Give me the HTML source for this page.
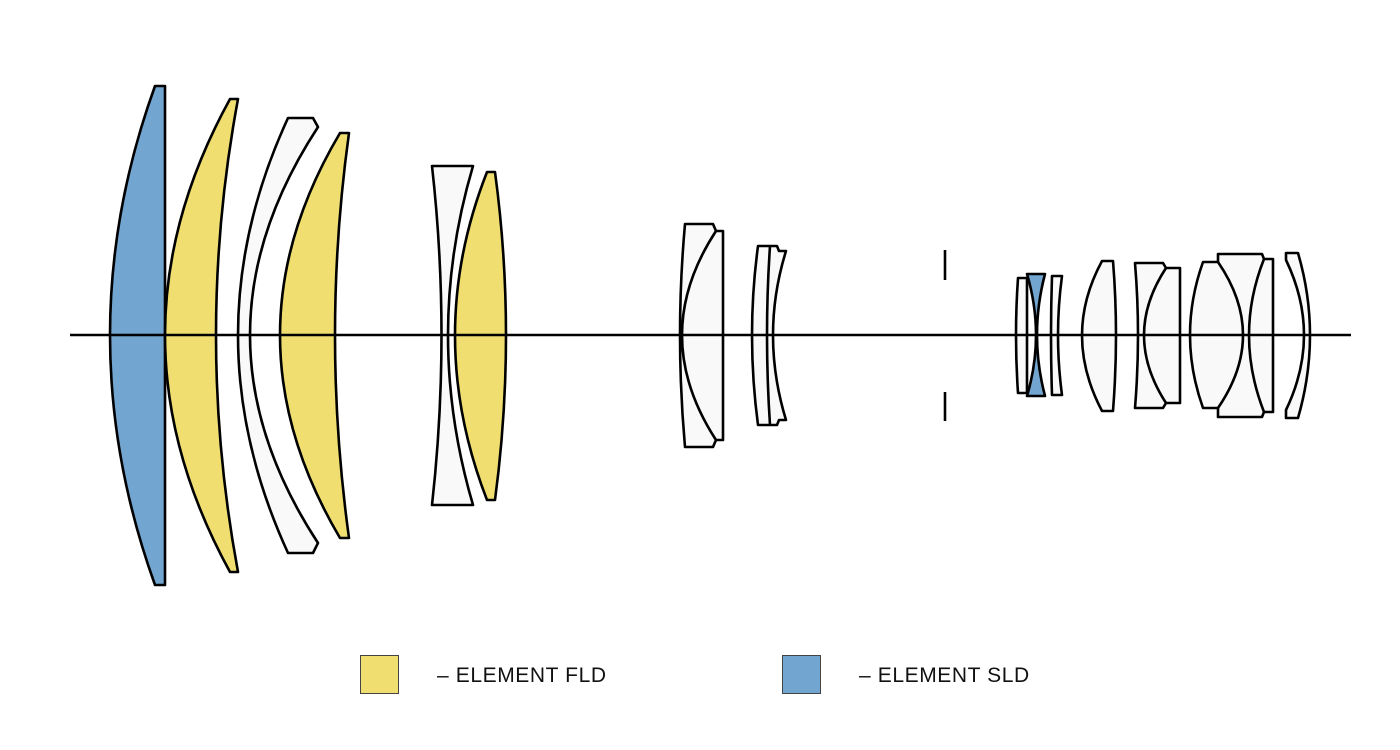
<!DOCTYPE html>
<html><head><meta charset="utf-8"><style>
html,body{margin:0;padding:0;background:#fff;width:1400px;height:750px;overflow:hidden}
svg{display:block}
text{font-family:"Liberation Sans",sans-serif}
</style></head><body>
<svg width="1400" height="750" viewBox="0 0 1400 750" xmlns="http://www.w3.org/2000/svg">
<g stroke="#000" stroke-width="2.6" stroke-linejoin="round" fill="#f9f9f9">
<path d="M155,86 L165,86 L165,585 L155,585 Q65,335 155,86 Z" fill="#72a5d0"/>
<path d="M230,99 L238,99 Q194,335 238,572 L230,572 Q100,335 230,99 Z" fill="#f0df70"/>
<path d="M288,118 L313,118 L318,127 Q182,335 318,543 L313,553 L288,553 Q188,335 288,118 Z"/>
<path d="M340,133 L349,133 Q321,335 349,538 L340,538 Q220,335 340,133 Z" fill="#f0df70"/>
<path d="M432,166 L473,166 Q423,335 473,505 L432,505 Q451,335 432,166 Z"/>
<path d="M487,172 L495,172 Q517,335 495,500 L487,500 Q423,335 487,172 Z" fill="#f0df70"/>
<path d="M685,224 L713,224 L716,231 L723,231 L723,440 L716,440 L713,447 L685,447 Q675,335 685,224 Z"/>
<path d="M716,231 Q648,335 716,440" fill="none"/>
<path d="M758,246 L777,246 L779,251 L786,251 Q760,335 786,420 L779,420 L777,425 L758,425 Q746,335 758,246 Z"/>
<path d="M770,246 Q764,335 770,425" fill="none"/>
<line x1="945" y1="250" x2="945" y2="280"/>
<line x1="945" y1="392" x2="945" y2="421"/>
<path d="M1027,278 L1018,278 Q1014,335 1018,393 L1027,393 Z"/>
<path d="M1027,274 L1045,274 Q1029,335 1045,396 L1027,396 Q1045,335 1027,274 Z" fill="#72a5d0"/>
<path d="M1052,276 L1062,276 Q1054,335 1062,395 L1052,395 Q1050,335 1052,276 Z"/>
<path d="M1102,261 L1113,261 Q1119,335 1113,411 L1102,411 Q1062,335 1102,261 Z"/>
<path d="M1135,263 L1163,263 L1166,268 L1180,268 L1180,403 L1166,403 L1163,408 L1135,408 Q1141,335 1135,263 Z"/>
<path d="M1166,268 Q1122,335 1166,403" fill="none"/>
<path d="M1203,262 L1218,262 L1218,254 L1262,254 L1264,259 L1273,259 L1273,412 L1264,412 L1262,417 L1218,417 L1218,408 L1203,408 Q1177,335 1203,262 Z"/>
<path d="M1218,262 Q1268,335 1218,408" fill="none"/>
<path d="M1264,259 Q1234,335 1264,412" fill="none"/>
<path d="M1286,253 L1298,253 Q1322,335 1298,418 L1286,418 L1286,410 Q1322,335 1286,260 Z"/>
<line x1="70" y1="335" x2="1351" y2="335" stroke-width="2.4"/>
</g>
<rect x="360.5" y="655.5" width="38" height="38" fill="#f0df70" stroke="#444" stroke-width="1"/>
<text x="437" y="682" font-size="21" letter-spacing="0.6" fill="#111">– ELEMENT FLD</text>
<rect x="782.5" y="655.5" width="38" height="38" fill="#72a5d0" stroke="#444" stroke-width="1"/>
<text x="859" y="682" font-size="21" letter-spacing="0.6" fill="#111">– ELEMENT SLD</text>
</svg>
</body></html>
